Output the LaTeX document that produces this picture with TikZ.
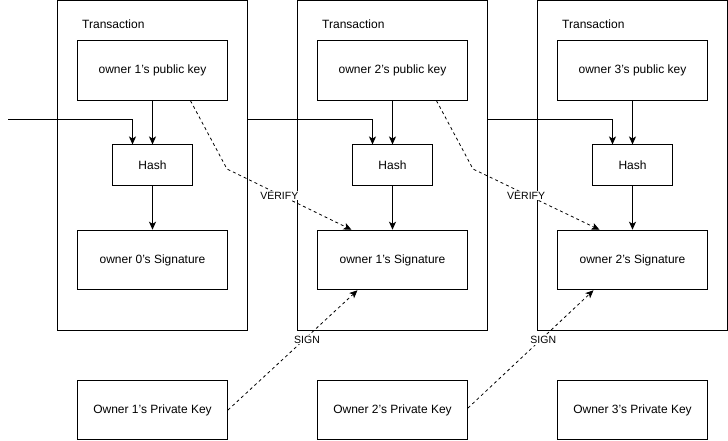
\documentclass[tikz,border=0pt]{standalone}
\usepackage{fontspec}
\setmainfont{Liberation Sans}
\usetikzlibrary{arrows.meta,calc}
\begin{document}
\begin{tikzpicture}[x=1pt,y=-1pt,
  every node/.style={font=\fontsize{12}{14}\selectfont},
  txbox/.style={draw, line width=1pt, minimum width=190pt, minimum height=329.5pt, inner sep=0pt},
  keybox/.style={draw, line width=1pt, minimum width=150pt, minimum height=59.5pt, inner sep=0pt},
  hashbox/.style={draw, line width=1pt, minimum width=80pt, minimum height=40pt, inner sep=0pt},
  txlabel/.style={anchor=west, inner sep=0pt},
  arr/.style={line width=1pt, -{Stealth[length=8pt,width=7pt,inset=2pt]}},
  dasharr/.style={line width=0.8pt, dash pattern=on 3pt off 3pt, -{Stealth[length=8pt,width=7pt,inset=2pt]}},
  lbl/.style={fill=white, inner sep=1pt, font=\fontsize{10.5}{12}\selectfont}
]
\useasboundingbox (0,0) rectangle (728,441);

% Transactions
\foreach \i/\dx in {1/0,2/240,3/480}{
  \node[txbox] (T\i) at (152.5+\dx,165.75) {};
  \node[txlabel] (TL\i) at (82+\dx,24.5) {Transaction};
  \node[hashbox] (hash\i) at (152.5+\dx,165) {Hash};
  \node[keybox] (priv\i) at (152.5+\dx,410) {Owner \i's Private Key};
}
\node[keybox] (pub1) at (152.5,70.5) {owner 1's public key};
\node[keybox] (pub2) at (392.5,70.5) {owner 2's public key};
\node[keybox] (pub3) at (632.5,70.5) {owner 3's public key};
\node[keybox] (sig1) at (152.5,260) {owner 0's Signature};
\node[keybox] (sig2) at (392.5,260) {owner 1's Signature};
\node[keybox] (sig3) at (632.5,260) {owner 2's Signature};

% solid connectors
\coordinate (in0) at (8,120);
\draw[arr] (in0) -| ($(hash1.north west)+(20.5,0)$);
\draw[arr] (T1.east |- in0) -| ($(hash2.north west)+(20.5,0)$);
\draw[arr] (T2.east |- in0) -| ($(hash3.north west)+(20.5,0)$);
\foreach \i in {1,2,3}{
  \draw[arr] (pub\i) -- (hash\i);
  \draw[arr] (hash\i) -- (sig\i);
}

% VERIFY
\draw[dasharr] ($(pub1.south west)+(113.5,0)$) -- (227,169)
  -- node[pos=0.42,lbl,yshift=-1pt] {VERIFY} ($(sig2.north west)+(34.5,0)$);
\draw[dasharr] ($(pub2.south west)+(119.5,0)$) -- (473,169)
  -- node[pos=0.42,lbl,yshift=-1pt] {VERIFY} ($(sig3.north west)+(42.5,0)$);

% SIGN
\draw[dasharr] (priv1.east) -- node[pos=0.61,lbl,yshift=-2.5pt] {SIGN} ($(sig2.south west)+(40.5,0)$);
\draw[dasharr] ($(priv2.east)+(0,-2)$) -- node[pos=0.6,lbl,yshift=-2.5pt] {SIGN} ($(sig3.south west)+(36.5,0)$);
\end{tikzpicture}
\end{document}
